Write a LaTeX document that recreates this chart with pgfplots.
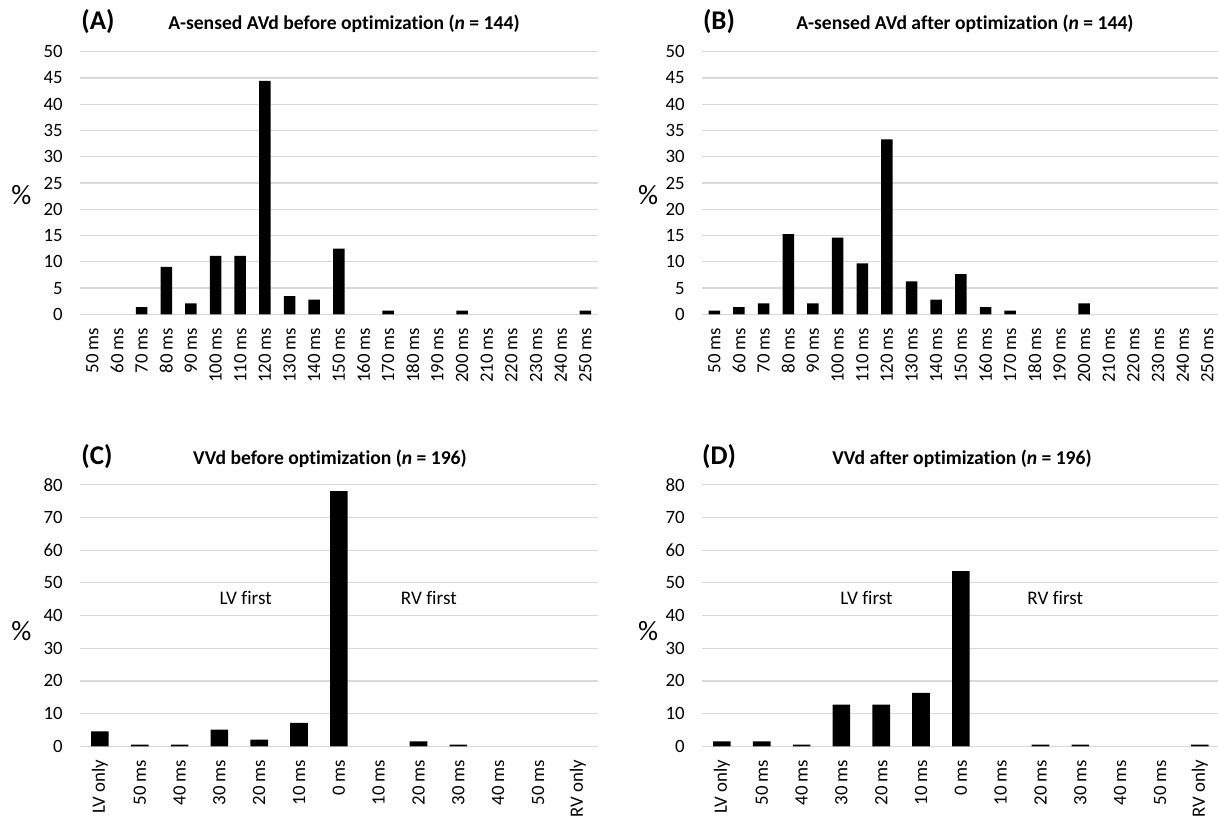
\documentclass[border=0pt]{standalone}
\usepackage{fontspec}
\setmainfont{Carlito}[Ligatures=NoCommon]
\usepackage{pgfplots}
\pgfplotsset{compat=1.18}
\pgfplotsset{
  base/.style={
    scale only axis, width=258.85pt, ybar,
    axis line style={draw=none}, major tick length=0pt,
    ymajorgrids, grid style={gray!30, line width=0.6pt},
    ymin=0, xmin=-0.5,
    /pgf/number format/assume math mode=true,
    tick label style={font=\fontsize{9.4}{10}\selectfont},
    yticklabel style={anchor=east, inner sep=0pt, xshift=-8.5pt},
    xticklabel style={yshift=-6.5pt, rotate=90, anchor=east, inner sep=0pt},
  },
  avd/.style={base, height=131.3pt, ymax=50, ytick={0,5,...,50},
    bar width=5.75pt, xmax=20.5, xtick={0,...,20},
    xticklabels={50 ms,60 ms,70 ms,80 ms,90 ms,100 ms,110 ms,120 ms,130 ms,140 ms,150 ms,160 ms,170 ms,180 ms,190 ms,200 ms,210 ms,220 ms,230 ms,240 ms,250 ms}},
  vvd/.style={base, height=130.8pt, ymax=80, ytick={0,10,...,80},
    bar width=8.8pt, xmax=12.5, xtick={0,...,12},
    xticklabels={LV only,50 ms,40 ms,30 ms,20 ms,10 ms,0 ms,10 ms,20 ms,30 ms,40 ms,50 ms,RV only}},
}
\begin{document}
\begin{tikzpicture}
\path[use as bounding box] (0,0) rectangle (609pt,407.5pt);
% (A)
\begin{axis}[avd, at={(40pt,250.35pt)}, anchor=south west]
\addplot[fill=black, draw=none] coordinates {(2,1.39) (3,9.03) (4,2.08) (5,11.11) (6,11.11) (7,44.44) (8,3.47) (9,2.78) (10,12.5) (12,0.69) (15,0.69) (20,0.69)};
\end{axis}
% (B)
\begin{axis}[avd, at={(351pt,250.35pt)}, anchor=south west]
\addplot[fill=black, draw=none] coordinates {(0,0.69) (1,1.39) (2,2.08) (3,15.28) (4,2.08) (5,14.58) (6,9.72) (7,33.33) (8,6.25) (9,2.78) (10,7.64) (11,1.39) (12,0.69) (15,2.08)};
\end{axis}
% (C)
\begin{axis}[vvd, at={(40pt,34.35pt)}, anchor=south west]
\addplot[fill=black, draw=none] coordinates {(0,4.59) (1,0.51) (2,0.51) (3,5.10) (4,2.04) (5,7.14) (6,78.06) (8,1.53) (9,0.51)};
\node[font=\fontsize{9.6}{11}\selectfont] at (axis cs:3.66,45.3) {LV first};
\node[font=\fontsize{9.6}{11}\selectfont] at (axis cs:8.26,45.3) {RV first};
\end{axis}
% (D)
\begin{axis}[vvd, at={(351pt,34.35pt)}, anchor=south west]
\addplot[fill=black, draw=none] coordinates {(0,1.53) (1,1.53) (2,0.51) (3,12.76) (4,12.76) (5,16.33) (6,53.57) (8,0.51) (9,0.51) (12,0.51)};
\node[font=\fontsize{9.6}{11}\selectfont] at (axis cs:3.63,45.3) {LV first};
\node[font=\fontsize{9.6}{11}\selectfont] at (axis cs:8.37,45.3) {RV first};
\end{axis}
% titles
\node[anchor=base, font=\bfseries\fontsize{13.5}{15}\selectfont] at (49pt,392.5pt) {(A)};
\node[anchor=base, font=\bfseries\fontsize{9.8}{11}\selectfont] at (172pt,392.5pt) {A-sensed AVd before optimization (\textit{n} = 144)};
\node[anchor=base, font=\bfseries\fontsize{13.5}{15}\selectfont] at (359.5pt,392.5pt) {(B)};
\node[anchor=base, font=\bfseries\fontsize{9.8}{11}\selectfont] at (482.5pt,392.5pt) {A-sensed AVd after optimization (\textit{n} = 144)};
\node[anchor=base, font=\bfseries\fontsize{13.5}{15}\selectfont] at (48.5pt,175.3pt) {(C)};
\node[anchor=base, font=\bfseries\fontsize{9.8}{11}\selectfont] at (165pt,175.3pt) {VVd before optimization (\textit{n} = 196)};
\node[anchor=base, font=\bfseries\fontsize{13.5}{15}\selectfont] at (359.5pt,175.3pt) {(D)};
\node[anchor=base, font=\bfseries\fontsize{9.8}{11}\selectfont] at (481pt,175.3pt) {VVd after optimization (\textit{n} = 196)};
% y labels
\node[font=\fontsize{14}{16}\selectfont] at (10.7pt,310pt) {\%};
\node[font=\fontsize{14}{16}\selectfont] at (324pt,310pt) {\%};
\node[font=\fontsize{14}{16}\selectfont] at (10.7pt,92pt) {\%};
\node[font=\fontsize{14}{16}\selectfont] at (324pt,92pt) {\%};
\end{tikzpicture}
\end{document}
